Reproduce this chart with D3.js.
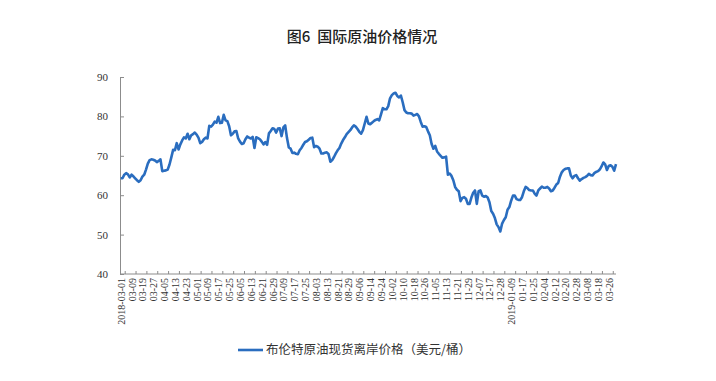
<!DOCTYPE html>
<html>
<head>
<meta charset="utf-8">
<script src="https://cdn.jsdelivr.net/npm/d3@7"></script>
<style>
  body { margin: 0; background: #fff; }
  svg { display: block; }
</style>
</head>
<body>
<div id="chart"></div>
<script>
// 布伦特原油现货离岸价格, one value per trading day (2018-03-01 .. 2019-03-29)
const prices = [
  64.3, 64.3, 65.2, 65.6, 65.3, 64.5,
  65.2, 64.8, 64.3, 63.8, 63.4, 63.8,
  64.7, 65.2, 66.5, 68.0, 68.9, 69.1,
  69.0, 68.8, 68.4, 68.7, 69.1, 66.1,
  66.2, 66.3, 66.5, 67.8, 69.6, 71.5,
  71.4, 73.2, 71.6, 72.9, 73.9, 74.7,
  74.4, 75.6, 74.2, 75.2, 75.5, 75.9,
  75.4, 74.6, 73.2, 73.5, 74.2, 74.6,
  74.4, 77.6, 77.4, 77.9, 78.7, 78.4,
  79.9, 78.3, 78.4, 80.4, 79.0, 78.8,
  77.5, 75.2, 75.6, 76.2, 76.3, 74.4,
  73.6, 73.0, 73.2, 74.2, 74.9, 74.6,
  74.4, 74.8, 72.0, 74.7, 74.5, 74.2,
  73.6, 72.9, 73.5, 72.8, 75.7, 76.3,
  77.0, 76.8, 75.9, 76.9, 77.0, 75.0,
  77.2, 77.7, 74.5, 72.1, 71.8, 70.7,
  70.8, 70.5, 70.4, 71.4, 72.0, 72.8,
  73.5, 73.7, 74.1, 74.5, 74.6, 72.2,
  72.5, 72.3, 71.8, 70.6, 70.6, 70.8,
  70.9, 70.4, 68.5, 68.9, 69.7, 70.6,
  71.4, 72.0, 73.1, 74.0, 74.7, 75.5,
  76.0, 76.5, 77.2, 77.7, 77.4, 76.8,
  76.1, 75.6, 76.5, 78.2, 79.9, 78.2,
  78.0, 78.4, 78.8, 79.1, 79.3, 79.0,
  80.5, 82.1, 81.8, 81.8, 82.6, 84.6,
  85.4, 85.8, 86.0, 85.2, 84.8, 85.3,
  83.6, 81.6, 81.0, 80.8, 80.8, 80.7,
  80.2, 80.4, 80.6, 80.0, 78.6, 77.4,
  77.5, 77.3, 76.2, 75.2, 73.0, 71.8,
  72.5, 71.1, 70.5, 70.0, 69.5, 69.6,
  69.8, 65.2, 65.5, 64.9, 63.8, 62.1,
  61.4, 61.0, 58.5, 59.3, 59.5, 59.1,
  57.8, 57.8, 59.4, 60.6, 61.2, 57.8,
  61.0, 61.2, 59.9, 59.6, 59.8, 59.4,
  58.2, 56.0, 55.3, 54.2, 52.6, 51.9,
  50.8, 52.8, 53.7, 54.4, 56.3, 57.0,
  58.6, 59.9, 59.9, 59.0, 58.8, 58.8,
  59.5, 61.0, 62.1, 61.8, 61.3, 61.2,
  61.2, 60.4, 59.9, 61.2, 61.7, 62.2,
  61.9, 61.9, 62.1, 61.7, 61.0, 61.2,
  61.9, 62.7, 63.1, 64.7, 65.8, 66.4,
  66.7, 66.8, 66.8, 65.0, 64.3, 64.9,
  65.1, 64.3, 63.7, 64.1, 64.4, 64.6,
  64.9, 65.4, 65.1, 65.0, 65.6, 65.9,
  66.1, 66.5, 67.3, 68.3, 67.8, 66.4,
  67.4, 67.6, 67.2, 66.2, 67.9
];

// category labels shown on the axis, one every 6 trading days
const tickLabels = [
  "2018-03-01", "03-09", "03-19", "03-27", "04-05", "04-13", "04-23",
  "05-01", "05-09", "05-17", "05-25", "06-05", "06-13", "06-21", "06-29",
  "07-09", "07-17", "07-25", "08-03", "08-13", "08-21", "08-29",
  "09-06", "09-14", "09-24", "10-02", "10-10", "10-18", "10-26",
  "11-05", "11-13", "11-21", "11-29", "12-07", "12-17", "12-28",
  "2019-01-09", "01-17", "01-25", "02-04", "02-12", "02-20", "02-28",
  "03-08", "03-18", "03-26"
];
const labelStep = 6;

const yTicks = [40, 50, 60, 70, 80, 90];

const title = "图6  国际原油价格情况";
const seriesName = "布伦特原油现货离岸价格（美元/桶）";

const width = 716, height = 381;
const margin = { top: 77, right: 100, bottom: 107, left: 120 };

const svg = d3.select("#chart")
    .append("svg")
    .attr("width", width)
    .attr("height", height);

const x = d3.scaleLinear()
    .domain([0, prices.length - 1])
    .range([margin.left + 0.7, width - margin.right]);

const y = d3.scaleLinear()
    .domain([40, 90])
    .range([height - margin.bottom, margin.top]);

const axisColor = "#8c8c8c";
const textColor = "#333";

// title
svg.append("text")
    .attr("x", 362)
    .attr("y", 42)
    .attr("text-anchor", "middle")
    .style("white-space", "pre")
    .style("font-family", "'Noto Sans CJK SC', sans-serif")
    .style("font-size", "15px")
    .style("font-weight", "500")
    .style("fill", "#222")
    .text(title);

// y axis
const yAxis = svg.append("g")
    .attr("transform", `translate(${margin.left}, 0)`)
    .call(d3.axisLeft(y).tickValues(yTicks).tickSize(-4).tickPadding(12));
yAxis.select(".domain").attr("stroke", axisColor);
yAxis.selectAll(".tick line").attr("stroke", axisColor);
yAxis.selectAll("text")
    .style("font-family", "'Liberation Serif', serif")
    .style("font-size", "11px")
    .style("fill", textColor);

// x axis
const xAxis = svg.append("g")
    .attr("transform", `translate(0, ${height - margin.bottom})`)
    .call(d3.axisBottom(x)
        .tickValues(d3.range(0, tickLabels.length * labelStep, labelStep))
        .tickFormat((d, i) => tickLabels[i])
        .tickSize(-3));
xAxis.select(".domain")
    .attr("stroke", axisColor)
    .attr("d", `M${margin.left},0H${width - margin.right}`);
xAxis.selectAll(".tick line")
    .attr("stroke", axisColor)
    .attr("transform", "translate(4, 0)");
xAxis.selectAll("text")
    .attr("transform", "rotate(-90)")
    .attr("x", -4)
    .attr("y", 0)
    .attr("dy", "0.35em")
    .attr("text-anchor", "end")
    .style("font-family", "'Liberation Serif', serif")
    .style("font-size", "10px")
    .style("fill", textColor);

// the price line
const line = d3.line()
    .x((d, i) => x(i))
    .y(d => y(d));

svg.append("path")
    .datum(prices)
    .attr("fill", "none")
    .attr("stroke", "#2a6dbf")
    .attr("stroke-width", 2.6)
    .attr("stroke-linejoin", "round")
    .attr("d", line);

// legend
const legend = svg.append("g")
    .attr("transform", "translate(238, 350)");
legend.append("line")
    .attr("x1", 0)
    .attr("x2", 25)
    .attr("stroke", "#2a6dbf")
    .attr("stroke-width", 2.6);
legend.append("text")
    .attr("x", 28)
    .attr("dy", "0.35em")
    .style("font-family", "'Noto Sans CJK SC', sans-serif")
    .style("font-size", "12.5px")
    .style("fill", textColor)
    .text(seriesName);
</script>
</body>
</html>
